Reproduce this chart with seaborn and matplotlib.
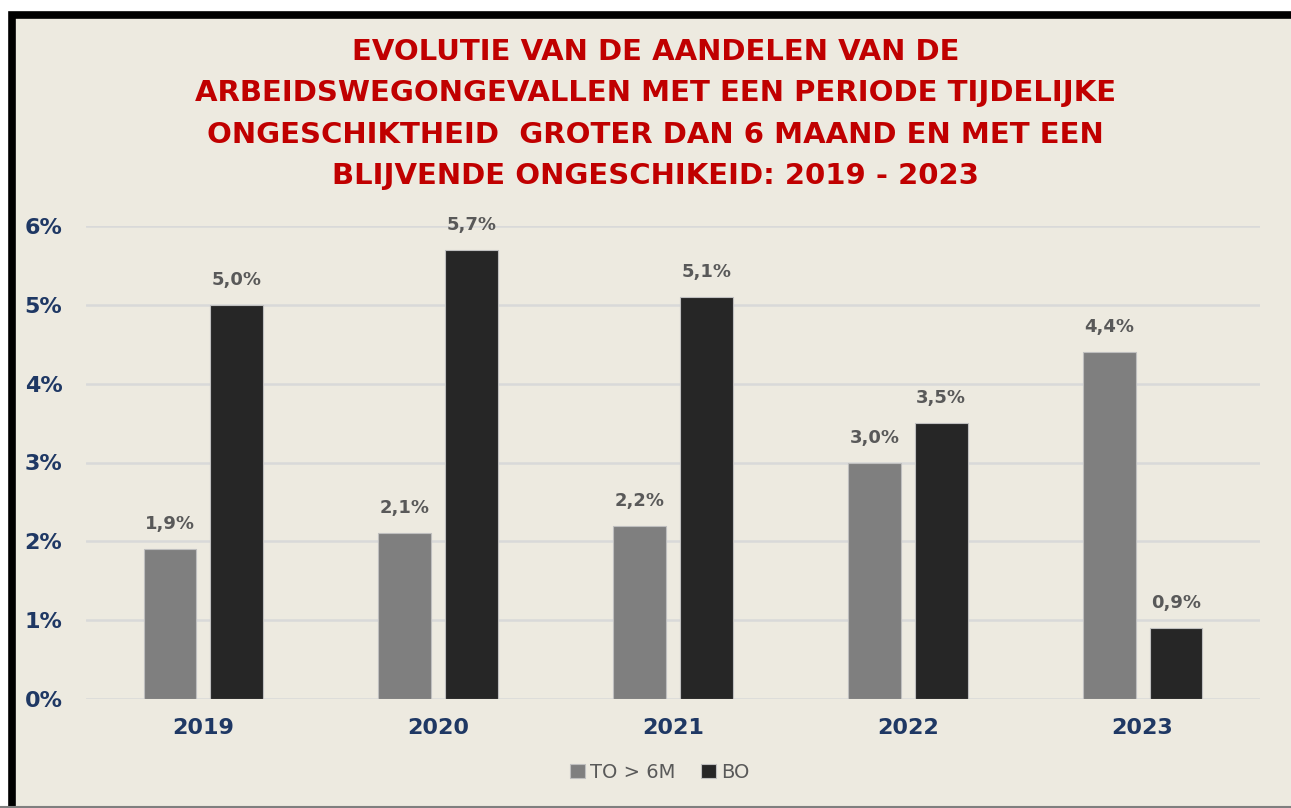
import pandas as pd
import matplotlib.pyplot as plt
import seaborn as sns
from matplotlib.patches import Rectangle

# DATA
jaren = ["2019", "2020", "2021", "2022", "2023"]
to_6m = [1.9, 2.1, 2.2, 3.0, 4.4]
bo = [5.0, 5.7, 5.1, 3.5, 0.9]
reeksen = ["TO > 6M", "BO"]
titel = ("EVOLUTIE VAN DE AANDELEN VAN DE\n"
         "ARBEIDSWEGONGEVALLEN MET EEN PERIODE TIJDELIJKE\n"
         "ONGESCHIKTHEID  GROTER DAN 6 MAAND EN MET EEN\n"
         "BLIJVENDE ONGESCHIKEID: 2019 - 2023")

df = pd.DataFrame({
    "jaar": jaren * 2,
    "reeks": [reeksen[0]] * len(jaren) + [reeksen[1]] * len(jaren),
    "waarde": [v / 100 for v in to_6m + bo],
})

bg = "#EDEAE0"
sns.set_theme(style="white")
plt.rcParams["font.family"] = ["DejaVu Sans"]

fig = plt.figure(figsize=(12.91, 8.08), dpi=100, facecolor="white")
# kader rond de grafiek
fig.patches.append(Rectangle((11.5 / 1291, -0.05), 1.2, 1 - 15 / 808 + 0.05,
                             transform=fig.transFigure, facecolor=bg,
                             edgecolor="black", linewidth=5.5, zorder=-5))
fig.lines.append(plt.Line2D([0, 1], [1 / 808, 1 / 808], transform=fig.transFigure,
                            color="#7F7F7F", linewidth=1.5, zorder=-4))

ax = fig.add_axes([86 / 1291, 1 - 699 / 808, (1260 - 86) / 1291, (699 - 226) / 808])
ax.set_zorder(2)
ax.patch.set_alpha(0)

sns.barplot(data=df, x="jaar", y="waarde", hue="reeks", order=jaren,
            hue_order=reeksen, palette=["#7F7F7F", "#262626"],
            width=0.57, gap=0.21, edgecolor="#BFBFBF", linewidth=0.8,
            ax=ax, zorder=3)

for cont in ax.containers:
    for bar in cont:
        h = bar.get_height()
        ax.annotate(f"{h * 100:.1f}%".replace(".", ","),
                    (bar.get_x() + bar.get_width() / 2, h),
                    xytext=(0, 18), textcoords="offset points",
                    ha="center", va="center", fontsize=13, fontweight="bold",
                    color="#595959", annotation_clip=False)

ax.set_ylim(0, 0.06)
ax.set_yticks([i / 100 for i in range(7)])
ax.set_yticklabels([f"{i}%" for i in range(7)])
ax.grid(axis="y", color="#D9D9D9", linewidth=1.8, zorder=0)
ax.set_axisbelow(True)
for s in ax.spines.values():
    s.set_visible(False)
ax.tick_params(axis="both", length=0, labelsize=16, labelcolor="#1F3864")
ax.tick_params(axis="y", pad=17)
ax.tick_params(axis="x", pad=14)
for lab in ax.get_xticklabels() + ax.get_yticklabels():
    lab.set_fontweight("bold")
ax.set_xlabel("")
ax.set_ylabel("")

ax.legend(loc="center", bbox_to_anchor=((660 - 86) / (1260 - 86), (699 - 772) / (699 - 226)),
          ncol=2, frameon=False, fontsize=14, labelcolor="#595959", handlelength=0.75,
          handleheight=0.75, handletextpad=0.3, columnspacing=1.3)

fig.text(0.508, 1 - 114 / 808, titel, ha="center", va="center", fontsize=21,
         fontweight="bold", color="#C00000", linespacing=1.62)

fig.savefig("out.png", dpi=100, facecolor="white")
